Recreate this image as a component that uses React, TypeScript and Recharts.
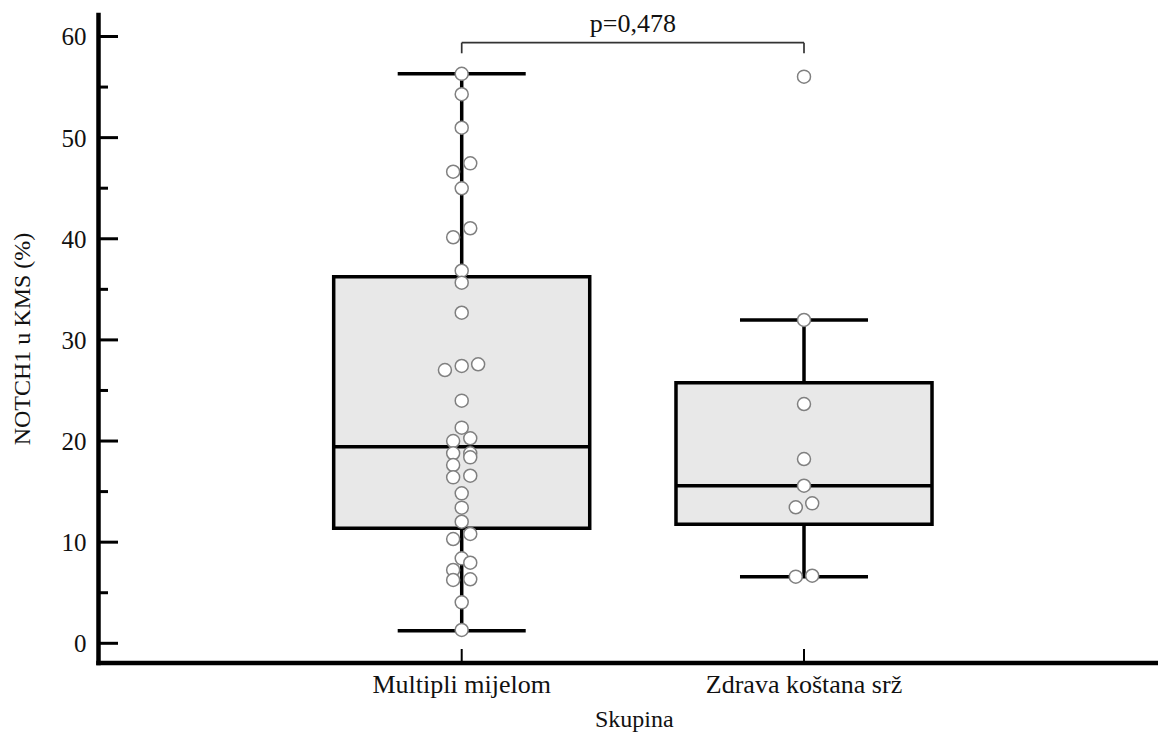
import React from 'react';
import { ComposedChart, XAxis, YAxis, Scatter, ReferenceArea, ReferenceLine } from 'recharts';

// ---- data ----
const categories = ['Multipli mijelom', 'Zdrava koštana srž'];
const categoryPos = [1, 2];

const mmValues = [56.31, 54.29, 50.98, 47.46, 46.63, 44.99, 41.04, 40.15, 36.84, 35.66, 32.69, 27.02, 27.42, 27.59, 23.99, 21.32, 20.0, 20.27, 18.79, 18.79, 18.39, 17.63, 16.41, 16.57, 14.83, 13.41, 12.02, 10.31, 10.81, 8.4, 7.97, 7.25, 6.26, 6.33, 4.05, 1.32];
const mmJitter = [0, 0, 0, 0.025, -0.025, 0, 0.025, -0.025, 0, 0, 0, -0.049, 0, 0.048, 0, 0, -0.025, 0.025, -0.025, 0.025, 0.025, -0.025, -0.025, 0.025, 0, 0, 0, -0.025, 0.025, 0, 0.025, -0.025, -0.025, 0.025, 0, 0];

const zksValues = [56.03, 31.97, 23.66, 18.22, 15.58, 13.84, 13.45, 6.59, 6.68];
const zksJitter = [0, 0, 0, 0, 0, 0.024, -0.024, -0.024, 0.024];

const q1 = [11.37, 11.77];
const medians = [19.44, 15.58];
const q3 = [36.25, 25.77];
const whiskerLow = [1.25, 6.59];
const whiskerHigh = [56.31, 31.97];

const bracketTop = 59.39;
const bracketDrop = 58.34;
const pLabel = 'p=0,478';

const yTicks = [0, 5, 10, 15, 20, 25, 30, 35, 40, 45, 50, 55, 60];

// ---- styling constants ----
const FONT = '"Liberation Serif", "Times New Roman", serif';
const BOX_HALF = 0.374;
const CAP_HALF = 0.187;

const mmData = mmValues.map((v, i) => ({ x: categoryPos[0] + mmJitter[i], y: v }));
const zksData = zksValues.map((v, i) => ({ x: categoryPos[1] + zksJitter[i], y: v }));

const Dot = (props: any) => (
  <circle cx={props.cx} cy={props.cy} r={6.5} fill="#ffffff" stroke="#808080" strokeWidth={1.5} />
);

const YTick = (props: any) => {
  const { x, y, payload } = props;
  const v = payload.value;
  const major = v % 10 === 0;
  const ax = x + 12;
  return (
    <g>
      <line x1={ax} x2={ax + (major ? 19.5 : 9.5)} y1={y} y2={y} stroke="#000" strokeWidth={3} />
      {major && (
        <text x={x} y={y} dy="0.355em" textAnchor="end" fontFamily={FONT} fontSize={25} fill="#111">
          {v}
        </text>
      )}
    </g>
  );
};

const XTick = (props: any) => {
  const { x, y, payload } = props;
  const idx = categoryPos.indexOf(payload.value);
  const ay = y - 30;
  return (
    <g>
      <line x1={x} x2={x} y1={ay - 2} y2={ay - 14} stroke="#000" strokeWidth={2} />
      <text x={x} y={y} textAnchor="middle" fontFamily={FONT} fontSize={26} fill="#111">
        {categories[idx]}
      </text>
    </g>
  );
};

const YLabel = (props: any) => {
  const vb = props.viewBox;
  const cx = vb.x + 22;
  const cy = vb.y + vb.height / 2;
  return (
    <text x={cx} y={cy} dy="0.35em" textAnchor="middle" fontFamily={FONT} fontSize={24} fill="#111" transform={`rotate(-90, ${cx}, ${cy})`}>
      NOTCH1 u KMS (%)
    </text>
  );
};

const XLabel = (props: any) => {
  const vb = props.viewBox;
  return (
    <text x={vb.x + vb.width / 2 + 6} y={vb.y + 64} textAnchor="middle" fontFamily={FONT} fontSize={24} fill="#111">
      Skupina
    </text>
  );
};

export default function App() {
  return (
    <div style={{ position: 'absolute', left: 0, top: 0, width: 1158, height: 736, background: '#fff' }}>
      <ComposedChart width={1158} height={736} margin={{ top: 15, right: 0, bottom: 0, left: 0 }}>
        <XAxis
          type="number"
          dataKey="x"
          domain={[-0.0611, 3.0342]}
          allowDataOverflow
          ticks={categoryPos}
          tickSize={0}
          tickMargin={30}
          tickLine={false}
          height={73}
          axisLine={{ stroke: '#000', strokeWidth: 4.5, strokeLinecap: 'square' }}
          tick={<XTick />}
          label={<XLabel />}
        />
        <YAxis
          type="number"
          dataKey="y"
          domain={[-1.948, 62.126]}
          allowDataOverflow
          ticks={yTicks}
          interval={0}
          tickSize={0}
          tickMargin={12}
          tickLine={false}
          width={98.5}
          axisLine={{ stroke: '#000', strokeWidth: 4.5, strokeLinecap: 'square' }}
          tick={<YTick />}
          label={<YLabel />}
        />
        {categoryPos.map((c, i) => (
          <ReferenceArea
            key={`box${i}`}
            x1={c - BOX_HALF}
            x2={c + BOX_HALF}
            y1={q1[i]}
            y2={q3[i]}
            fill="#e8e8e8"
            fillOpacity={1}
            stroke="#000"
            strokeWidth={3.5}
          />
        ))}
        {categoryPos.map((c, i) => (
          <ReferenceLine key={`wu${i}`} segment={[{ x: c, y: q3[i] }, { x: c, y: whiskerHigh[i] }]} stroke="#000" strokeWidth={3.5} />
        ))}
        {categoryPos.map((c, i) => (
          <ReferenceLine key={`wl${i}`} segment={[{ x: c, y: whiskerLow[i] }, { x: c, y: q1[i] }]} stroke="#000" strokeWidth={3.5} />
        ))}
        {categoryPos.map((c, i) => (
          <ReferenceLine key={`cu${i}`} segment={[{ x: c - CAP_HALF, y: whiskerHigh[i] }, { x: c + CAP_HALF, y: whiskerHigh[i] }]} stroke="#000" strokeWidth={3.5} />
        ))}
        {categoryPos.map((c, i) => (
          <ReferenceLine key={`cl${i}`} segment={[{ x: c - CAP_HALF, y: whiskerLow[i] }, { x: c + CAP_HALF, y: whiskerLow[i] }]} stroke="#000" strokeWidth={3.5} />
        ))}
        {categoryPos.map((c, i) => (
          <ReferenceLine key={`md${i}`} segment={[{ x: c - BOX_HALF, y: medians[i] }, { x: c + BOX_HALF, y: medians[i] }]} stroke="#000" strokeWidth={3.5} />
        ))}
        <ReferenceLine
          segment={[{ x: categoryPos[0], y: bracketTop }, { x: categoryPos[1], y: bracketTop }]}
          stroke="#333"
          strokeWidth={1.7}
          label={{ value: pLabel, position: 'top', offset: 11, fill: '#111', fontSize: 26, fontFamily: FONT }}
        />
        <ReferenceLine segment={[{ x: categoryPos[0], y: bracketDrop }, { x: categoryPos[0], y: bracketTop }]} stroke="#333" strokeWidth={1.7} />
        <ReferenceLine segment={[{ x: categoryPos[1], y: bracketDrop }, { x: categoryPos[1], y: bracketTop }]} stroke="#333" strokeWidth={1.7} />
        <Scatter data={mmData} shape={<Dot />} isAnimationActive={false} />
        <Scatter data={zksData} shape={<Dot />} isAnimationActive={false} />
      </ComposedChart>
    </div>
  );
}
